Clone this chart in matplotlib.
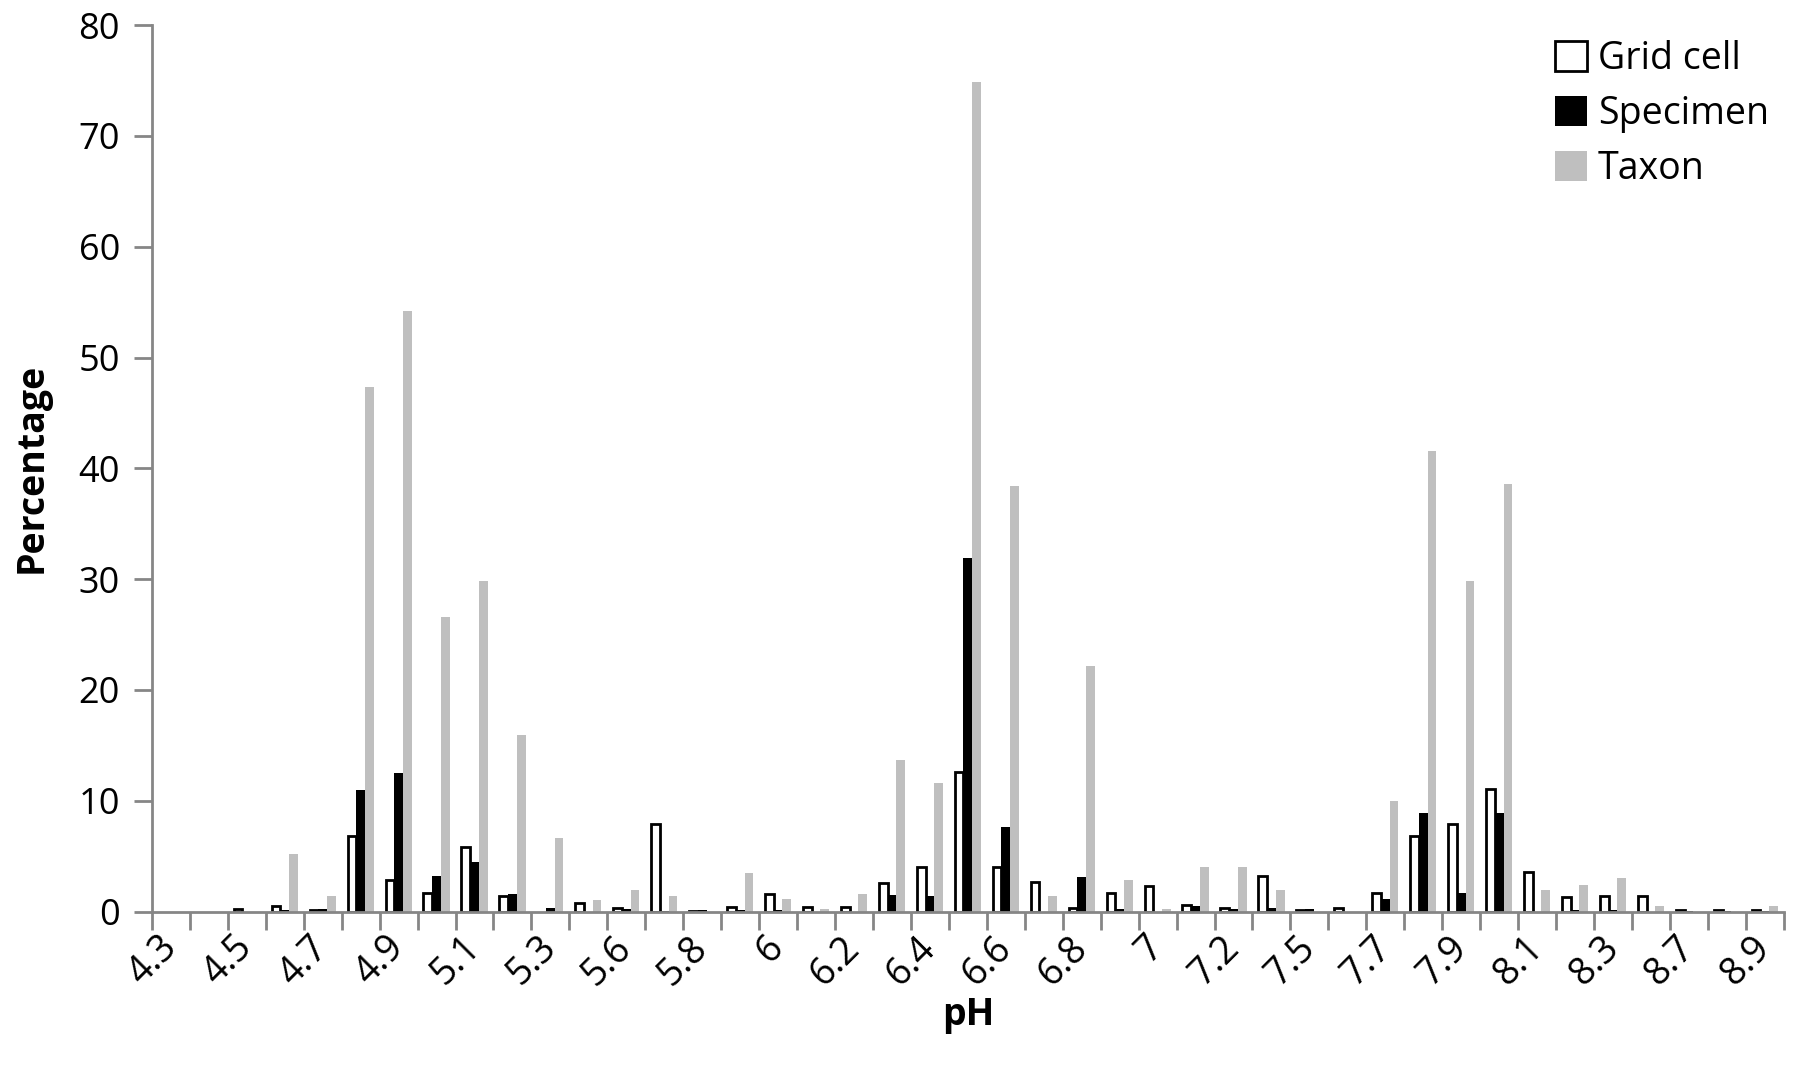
import numpy as np
import matplotlib
matplotlib.use("Agg")
import matplotlib.pyplot as plt
from matplotlib.patches import Patch

plt.rcParams['font.family'] = ['Open Sans', 'DejaVu Sans']

# pH classes (only every other one is labelled on the axis)
ph = ['4.3', '4.4', '4.5', '4.6', '4.7', '4.8', '4.9', '5', '5.1', '5.2',
      '5.3', '5.5', '5.6', '5.7', '5.8', '5.9', '6', '6.1', '6.2', '6.3',
      '6.4', '6.5', '6.6', '6.7', '6.8', '6.9', '7', '7.1', '7.2', '7.4',
      '7.5', '7.6', '7.7', '7.8', '7.9', '8', '8.1', '8.2', '8.3', '8.5',
      '8.7', '8.8', '8.9']

grid_cell = [0, 0, 0.2, 0.5, 0.15, 6.8, 2.9, 1.7, 5.8, 1.45,
             0, 0.8, 0.3, 7.9, 0.1, 0.4, 1.55, 0.4, 0.4, 2.55,
             4.0, 12.6, 4.0, 2.7, 0.3, 1.7, 2.35, 0.6, 0.3, 3.25,
             0.15, 0.3, 1.7, 6.8, 7.9, 11.05, 3.55, 1.35, 1.45, 1.45,
             0.15, 0.15, 0.15]

specimen = [0, 0, 0, 0.15, 0.2, 11.0, 12.5, 3.2, 4.5, 1.6,
            0.3, 0, 0.2, 0.1, 0.15, 0.15, 0.15, 0, 0, 1.5,
            1.4, 31.95, 7.6, 0, 3.1, 0.2, 0, 0.55, 0.2, 0.3,
            0.2, 0, 1.15, 8.9, 1.7, 8.9, 0, 0.15, 0.15, 0,
            0.1, 0.1, 0.1]

taxon = [0, 0, 0, 5.2, 1.4, 47.3, 54.2, 26.6, 29.8, 15.9,
         6.6, 1.05, 1.95, 1.4, 0, 3.5, 1.15, 0.2, 1.6, 13.7,
         11.65, 74.9, 38.4, 1.4, 22.2, 2.85, 0.25, 4.05, 4.05, 1.95,
         0, 0, 10.0, 41.6, 29.8, 38.6, 1.95, 2.4, 3.05, 0.5,
         0, 0, 0.55]

axis_grey = '#868686'
taxon_grey = '#BFBFBF'

fig = plt.figure(figsize=(18, 10.7), dpi=100)
ax = fig.add_axes([0.0844, 0.148, 0.9066, 0.8286])

x = np.arange(len(ph))
w = 0.23
# empty classes get no outline at all
edges = ['black' if v > 0 else 'none' for v in grid_cell]
ax.bar(x - w, grid_cell, w, color='white', edgecolor=edges, linewidth=2.0)
ax.bar(x, specimen, w, color='black', edgecolor='none')
ax.bar(x + w, taxon, w, color=taxon_grey, edgecolor='none')

ax.set_xlim(-0.5, len(ph) - 0.5)
ax.set_ylim(0, 80)
ax.set_yticks(range(0, 81, 10))

# ticks at the class boundaries, labels at every other class centre
ax.set_xticks(np.arange(len(ph) + 1) - 0.5)
ax.set_xticklabels([])
ax.set_xticks(x[::2], minor=True)
ax.set_xticklabels(ph[::2], minor=True, rotation=45, ha='right', va='center',
                   rotation_mode='anchor', fontsize=27)
ax.tick_params(axis='x', which='minor', length=0, pad=22)
ax.tick_params(axis='x', which='major', length=13, width=2, color=axis_grey)
ax.tick_params(axis='y', length=13, width=2, color=axis_grey, labelsize=26,
               pad=10)

for s in ['top', 'right']:
    ax.spines[s].set_visible(False)
for s in ['left', 'bottom']:
    ax.spines[s].set_color(axis_grey)
    ax.spines[s].set_linewidth(2)

ax.set_ylabel('Percentage', fontsize=27, fontweight='bold', labelpad=20)
ax.set_xlabel('pH', fontsize=27, fontweight='bold', labelpad=2)

handles = [Patch(facecolor='white', edgecolor='black', linewidth=2),
           Patch(facecolor='black'),
           Patch(facecolor=taxon_grey)]
ax.legend(handles, ['Grid cell', 'Specimen', 'Taxon'], loc='upper right',
          frameon=False, fontsize=27, handlelength=0.85, handleheight=0.85,
          handletextpad=0.3, labelspacing=0.45, borderaxespad=0.0,
          bbox_to_anchor=(1.0, 1.0))

fig.savefig('out.png', dpi=100)
